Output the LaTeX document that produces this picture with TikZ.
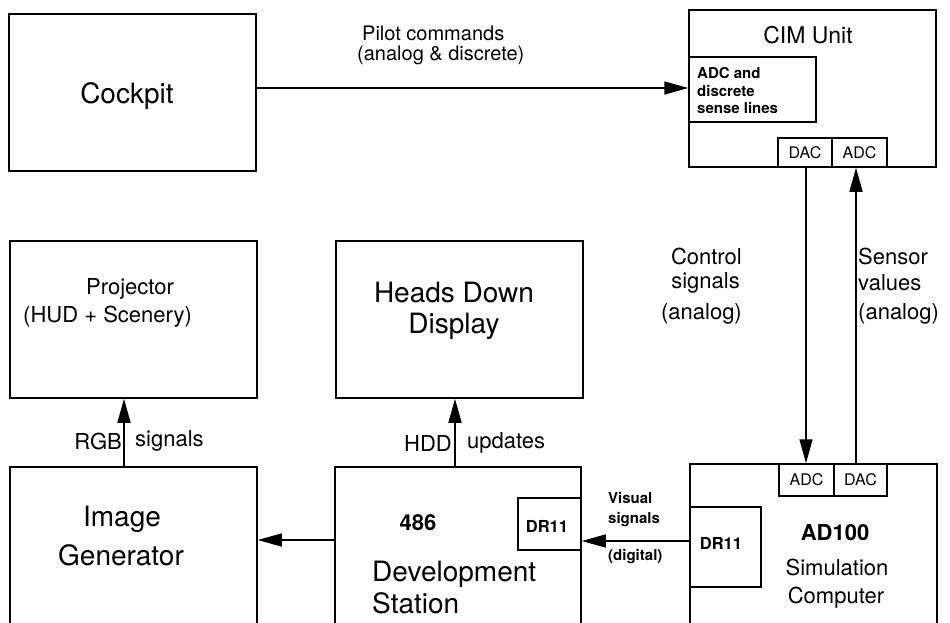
\documentclass[tikz,border=0pt]{standalone}
\usepackage{fontspec}
\setmainfont{TeX Gyre Heros}
\usetikzlibrary{arrows.meta}
\begin{document}
\begin{tikzpicture}[x=1pt,y=-1pt,
  box/.style={draw, line width=1.5pt, rectangle, inner sep=0pt, anchor=center},
  arr/.style={line width=1.5pt, -{Triangle[length=24pt,width=13pt]}},
  lbl/.style={inner sep=0pt, font=\fontsize{22}{26}\selectfont},
  big/.style={inner sep=0pt, font=\fontsize{28}{30}\selectfont},
  small/.style={inner sep=0pt, font=\bfseries\fontsize{15}{17.5}\selectfont},
  port/.style={inner sep=0pt, font=\fontsize{16}{18}\selectfont},
  dr/.style={inner sep=0pt, font=\bfseries\fontsize{16.5}{18}\selectfont}]
\useasboundingbox (0,0) rectangle (950,622);
\clip (0,0) rectangle (950,622);
\fill[white] (0,0) rectangle (950,622);
% boxes
\node[box, minimum width=247pt, minimum height=157pt] (cockpit) at (132.5,92.5) {};
\node[box, minimum width=247pt, minimum height=157pt] (cim) at (812.5,88.5) {};
\node[box, minimum width=127pt, minimum height=65pt] (cimadc) at (752.5,89.5) {};
\node[box, minimum width=54pt, minimum height=29pt] (cimdac) at (805,152.5) {};
\node[box, minimum width=55pt, minimum height=29pt] (cimadcb) at (859.5,152.5) {};
\node[box, minimum width=247pt, minimum height=157pt] (projector) at (133.5,319.5) {};
\node[box, minimum width=247pt, minimum height=157pt] (hdd) at (459.5,319.5) {};
\node[box, minimum width=247pt, minimum height=173pt] (imggen) at (133.5,553.5) {};
\node[box, minimum width=246pt, minimum height=173pt] (dev) at (458,553.5) {};
\node[box, minimum width=63pt, minimum height=52pt] (devdr) at (549.5,524) {};
\node[box, minimum width=247pt, minimum height=176pt] (ad) at (813.5,552) {};
\node[box, minimum width=55pt, minimum height=32pt] (adadc) at (806.5,480) {};
\node[box, minimum width=53pt, minimum height=32pt] (addac) at (860.5,480) {};
\node[box, minimum width=71pt, minimum height=80pt] (addr) at (725.5,547) {};
% helper coordinates
\coordinate (y88) at (0,88);
\coordinate (rgbx) at (124,0);
\coordinate (hddx) at (455,0);
\coordinate (y540) at (0,540);
\coordinate (y541) at (0,541);
\coordinate (ctlx) at (806,0);
\coordinate (sensx) at (856,0);
% connectors
\draw[arr] (cockpit.east |- y88) -- (cimadc.west |- y88);
\draw[arr] (imggen.north -| rgbx) -- (projector.south -| rgbx);
\draw[arr] (dev.north -| hddx) -- (hdd.south -| hddx);
\draw[arr] (dev.west |- y540) -- (imggen.east |- y540);
\draw[arr] (addr.west |- y541) -- (devdr.east |- y541);
\draw[arr] (cimdac.south -| ctlx) -- (adadc.north -| ctlx);
\draw[arr] (addac.north -| sensx) -- (cimadcb.south -| sensx);
% texts
\node[big, anchor=base] (tcock) at (127,103) {Cockpit};
\node[lbl, font=\fontsize{20}{20}\selectfont, anchor=base west, align=left] (tpc) at (357,60) {\hspace*{5pt}Pilot commands\\(analog \& discrete)};
\node[lbl, font=\fontsize{23}{26}\selectfont] (tcim) at (808,35) {CIM Unit};
\node[small, anchor=west, align=left] (tcimadc) at (697,91) {ADC and\\discrete\\sense lines};
\node[port] (tcimdac) at (cimdac) {DAC};
\node[port] (tcimadcb) at (cimadcb) {ADC};
\node[lbl, anchor=east] (tctl1) at (742,256) {Control};
\node[lbl, anchor=east] (tctl2) at (740,283) {signals};
\node[lbl, anchor=east] (tctl3) at (742,314) {(analog)};
\node[lbl, anchor=west] (tsen1) at (858,256) {Sensor};
\node[lbl, anchor=west] (tsen2) at (858,283) {values};
\node[lbl, anchor=west] (tsen3) at (858,314) {(analog)};
\node[lbl, anchor=base] (tproj1) at (130,294) {Projector};
\node[lbl, anchor=base west] (tproj2) at (23,322) {(HUD + Scenery)};
\node[big, anchor=base] (thdd1) at (454,302) {Heads Down};
\node[big, anchor=base] (thdd2) at (454,333) {Display};
\node[lbl, anchor=east] (trgb1) at (122,441) {RGB};
\node[lbl, anchor=west] (trgb2) at (135,441) {signals};
\node[lbl, anchor=east] (thddu1) at (452,443) {HDD};
\node[lbl, anchor=west] (thddu2) at (467,443) {updates};
\node[big, anchor=base] (timg1) at (122,526) {Image};
\node[big, anchor=base] (timg2) at (121,565) {Generator};
\node[lbl, font=\bfseries\fontsize{22}{26}\selectfont, anchor=base] (t486) at (418,530) {486};
\node[big, anchor=base west] (tdev1) at (372,581) {Development};
\node[big, anchor=base west] (tdev2) at (372,613) {Station};
\node[dr] (tdevdr) at (547,526) {DR11};
\node[small, anchor=west] (tvis1) at (608,498) {Visual};
\node[small, anchor=west] (tvis2) at (608,520) {signals};
\node[small, anchor=west] (tvis3) at (608,557) {(digital)};
\node[dr] (taddr) at (721,543) {DR11};
\node[lbl, font=\bfseries\fontsize{22}{26}\selectfont] (tad1) at (835,533) {AD100};
\node[lbl] (tad2) at (837,567) {Simulation};
\node[lbl] (tad3) at (836,598) {Computer};
\node[port] (tadadc) at (adadc) {ADC};
\node[port] (taddac) at (addac) {DAC};
\end{tikzpicture}
\end{document}
